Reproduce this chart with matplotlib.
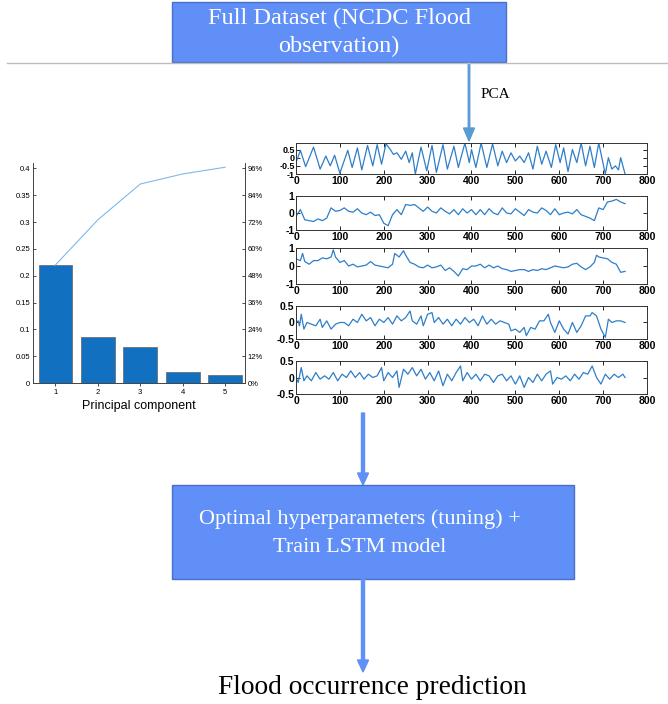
import matplotlib
matplotlib.use("Agg")
import matplotlib.pyplot as plt
from matplotlib.patches import Rectangle, FancyArrow

# PCA explained variance per component and cumulative share (%)
components = [1, 2, 3, 4, 5]
explained = [0.22, 0.085, 0.068, 0.021, 0.015]
cum_pct = [52.8, 73.0, 89.0, 93.5, 96.5]

# principal component score series (time index, value)
pc1_t = [0, 10, 22, 40, 55, 68, 78, 88, 100, 118, 128, 140, 150, 163, 175, 185, 195, 205,
         215, 222, 230, 240, 250, 258, 265, 272, 285, 298, 310, 320, 335, 345, 360, 370,
         385, 395, 400, 410, 422, 435, 448, 460, 470, 480, 490, 500, 510, 520, 530, 540,
         550, 560, 570, 582, 592, 602, 610, 620, 630, 640, 650, 660, 670, 680, 690, 705,
         712, 720, 728, 735, 740, 750]
pc1_v = [-0.3, 0.45, -0.55, 0.65, -0.7, 0.1, -0.5, 0.15, -0.95, 0.45, -0.6, 0.6, -0.75, 0.75,
         -0.5, 0.8, -0.4, 0.85, 0.5, 0.2, 0.3, -0.1, 0.4, -0.3, 0.3, -1.0, 0.65, -0.8, 0.75,
         -0.9, 0.8, -0.7, 0.7, -0.6, 0.9, -0.3, 0.5, -0.6, 0.9, -0.6, 0.85, -0.5, 0.4, -0.3,
         0.3, -0.2, 0.1, -0.3, 0.3, -0.7, 0.7, -0.4, 0.4, -0.6, 0.8, -0.3, 0.6, -0.85, 0.5,
         -0.3, 0.9, -0.5, 0.7, -0.6, 0.9, -1.0, 0.0, -0.7, -0.5, -0.75, 0.0, -1.0]

pc2_t = list(range(0, 751, 10))
pc2_v = [-0.2, 0.2, -0.4, -0.45, -0.5, -0.35, -0.45, -0.3, 0.3, 0.1, 0.15, 0.3, 0.1, 0.05,
         0.25, 0.0, -0.1, 0.05, -0.15, -0.1, -0.6, -0.75, -0.1, 0.2, -0.1, 0.5, 0.45, 0.5,
         0.3, 0.1, 0.35, 0.1, 0.0, 0.3, 0.1, -0.05, 0.2, -0.1, 0.25, 0.0, 0.2, -0.1, 0.2,
         -0.1, 0.25, 0.0, -0.1, 0.3, 0.0, -0.05, 0.25, 0.05, -0.15, 0.2, 0.05, 0.0, 0.3,
         0.15, -0.1, 0.25, -0.1, 0.0, 0.05, -0.05, 0.2, -0.1, -0.2, -0.3, -0.45, 0.3, 0.2,
         0.65, 0.7, 0.8, 0.65, 0.55]

pc3_t = [0, 10, 15, 20, 30, 40, 50, 60, 70, 80, 85, 90, 100, 110, 120, 130, 140, 150, 160,
         170, 180, 190, 200, 210, 220, 225, 235, 245, 250, 260, 270, 280, 290, 300, 310,
         320, 330, 340, 350, 360, 370, 380, 390, 400, 410, 420, 430, 440, 450, 460, 470,
         480, 490, 500, 510, 520, 530, 540, 550, 560, 570, 580, 590, 600, 610, 620, 630,
         640, 650, 660, 670, 680, 685, 690, 700, 710, 720, 730, 740, 750]
pc3_v = [0.4, 0.3, 0.7, 0.25, 0.1, 0.3, 0.3, 0.45, 0.4, 0.5, 0.9, 0.5, 0.2, 0.3, 0.0, 0.1,
         -0.05, 0.0, 0.05, 0.25, 0.05, 0.0, -0.05, -0.1, 0.1, 0.7, 0.5, 0.85, 0.6, 0.2, 0.1,
         -0.05, -0.1, 0.05, -0.1, -0.05, 0.05, -0.25, -0.1, -0.3, -0.55, -0.15, -0.2, 0.0,
         0.0, 0.1, -0.1, 0.05, -0.1, 0.0, -0.15, -0.2, -0.3, -0.25, -0.2, -0.2, -0.3, -0.2,
         -0.25, -0.15, -0.2, -0.1, 0.0, -0.05, -0.1, -0.05, 0.1, 0.15, -0.05, -0.2, -0.05,
         0.2, 0.6, 0.5, 0.45, 0.4, 0.2, 0.1, -0.35, -0.3]

pc4_t = [0, 5, 8, 12, 18, 25, 35, 45, 55, 60, 70, 80, 90, 100, 110, 120, 130, 140, 150, 160,
         170, 180, 190, 200, 210, 220, 230, 240, 250, 260, 265, 275, 285, 290, 300, 310,
         315, 325, 335, 345, 355, 365, 375, 385, 395, 405, 415, 425, 435, 445, 455, 465,
         475, 485, 490, 500, 510, 520, 525, 535, 545, 555, 565, 575, 580, 590, 600, 610,
         620, 630, 640, 650, 660, 670, 675, 685, 695, 705, 712, 720, 730, 740, 750]
pc4_v = [0.0, 0.05, -0.1, 0.25, -0.2, 0.0, -0.05, -0.1, 0.1, -0.15, 0.05, -0.2, -0.05, 0.0,
         0.0, -0.1, 0.1, 0.0, 0.25, 0.05, 0.15, -0.1, 0.1, 0.0, 0.15, -0.05, 0.2, 0.05,
         0.15, 0.35, 0.05, -0.05, 0.2, -0.1, 0.25, 0.3, 0.0, 0.15, -0.05, 0.1, -0.1, 0.1,
         -0.05, 0.15, 0.0, 0.1, -0.1, 0.2, -0.05, 0.1, -0.05, 0.05, 0.0, -0.05, -0.25, -0.2,
         -0.3, -0.15, -0.4, -0.15, -0.2, 0.05, 0.05, 0.25, 0.0, -0.3, 0.05, -0.2, -0.35,
         0.0, -0.3, -0.1, 0.2, 0.2, 0.3, 0.2, -0.2, -0.45, 0.1, 0.0, 0.05, 0.05, 0.0]

pc5_t = [0, 5, 12, 18, 25, 35, 45, 55, 65, 75, 85, 95, 105, 115, 125, 135, 145, 155, 165,
         175, 185, 195, 200, 210, 220, 230, 235, 245, 255, 265, 275, 285, 295, 305, 315,
         325, 335, 345, 355, 365, 375, 380, 390, 400, 410, 420, 430, 440, 450, 460, 470,
         480, 490, 500, 510, 520, 530, 540, 550, 560, 570, 580, 585, 595, 605, 615, 625,
         635, 645, 655, 665, 675, 685, 695, 705, 715, 725, 735, 745, 750]
pc5_v = [0.0, -0.15, 0.3, -0.1, 0.05, -0.1, 0.15, -0.05, 0.05, -0.05, 0.15, -0.1, 0.1, 0.0,
         0.2, 0.0, 0.15, -0.05, 0.1, 0.0, 0.05, 0.3, -0.1, 0.15, 0.0, 0.2, -0.3, 0.25, 0.1,
         0.3, 0.05, 0.25, -0.05, 0.15, -0.1, 0.2, -0.25, 0.1, -0.1, 0.15, 0.35, -0.1, 0.15,
         -0.05, 0.1, -0.1, 0.1, 0.05, -0.15, 0.05, 0.1, -0.1, 0.05, -0.2, 0.05, -0.3, 0.0,
         -0.15, 0.1, -0.1, 0.1, 0.2, -0.2, 0.0, -0.05, 0.05, -0.1, 0.1, -0.05, 0.15, 0.1,
         0.35, 0.0, -0.2, 0.1, -0.05, 0.1, 0.0, 0.1, 0.0]

W, H = 668, 704
box_blue = "#5F8FF7"
serif = "Liberation Serif"
sans = "Liberation Sans"

fig = plt.figure(figsize=(W / 100, H / 100), dpi=100)


def px_axes(x0, y0, x1, y1):
    # axes placed by pixel box (top-left origin)
    return fig.add_axes([x0 / W, 1 - y1 / H, (x1 - x0) / W, (y1 - y0) / H])


# flowchart layer
flow = fig.add_axes([0, 0, 1, 1])
flow.set_xlim(0, W)
flow.set_ylim(H, 0)
flow.axis("off")

flow.add_patch(Rectangle((172, 2), 334, 60, facecolor=box_blue, edgecolor="#4A6FC8", lw=1))
flow.text(339, 18, "Full Dataset (NCDC Flood", color="white", family=serif, fontsize=17.5,
          ha="center", va="center")
flow.text(339, 46, "observation)", color="white", family=serif, fontsize=17.5,
          ha="center", va="center")
flow.plot([7, 668], [63, 63], color="#BDBDBD", lw=1)

flow.add_patch(FancyArrow(469, 63, 0, 78, width=1.5, head_width=11, head_length=13,
                          length_includes_head=True, color="#5B9BD5"))
flow.text(481, 95, "PCA", family=serif, fontsize=11, ha="left", va="center")

flow.add_patch(FancyArrow(363, 413, 0, 72, width=3, head_width=11, head_length=12,
                          length_includes_head=True, color=box_blue))
flow.add_patch(Rectangle((172, 485), 402, 94, facecolor=box_blue, edgecolor="#4A6FC8", lw=1))
flow.text(360, 519, "Optimal hyperparameters (tuning) +", color="white", family=serif,
          fontsize=16, ha="center", va="center")
flow.text(360, 548, "Train LSTM model", color="white", family=serif, fontsize=16,
          ha="center", va="center")
flow.add_patch(FancyArrow(363, 579, 0, 93, width=3, head_width=11, head_length=12,
                          length_includes_head=True, color=box_blue))
flow.text(372, 688, "Flood occurrence prediction", family=serif, fontsize=19.7,
          ha="center", va="center")

# pareto chart of explained variance
ax = px_axes(33, 163, 245, 383)
ax.bar(components, explained, width=0.8, color="#1170C0", edgecolor="#707070", lw=0.6)
ax.set_xlim(0.47, 5.47)
ax.set_ylim(0, 0.41)
ax.set_yticks([0, 0.05, 0.1, 0.15, 0.2, 0.25, 0.3, 0.35, 0.4])
ax.set_yticklabels(["0", "0.05", "0.1", "0.15", "0.2", "0.25", "0.3", "0.35", "0.4"])
ax.set_xticks(components)
ax.tick_params(labelsize=5.5, length=2, width=0.5, direction="in", pad=2)
ax.tick_params(axis="x", direction="out")
ax.set_xlabel("Principal component", fontsize=9, family=sans, labelpad=3)
for s in ax.spines.values():
    s.set_linewidth(0.6)
    s.set_color("#444444")
ax.spines["top"].set_visible(False)
for lab in ax.get_xticklabels() + ax.get_yticklabels():
    lab.set_family(sans)

ax2 = ax.twinx()
ax2.plot(components, cum_pct, color="#80B8EA", lw=0.8)
ax2.set_ylim(0, 0.41 / 0.4 * 96)
ax2.set_yticks(range(0, 97, 12))
ax2.set_yticklabels([f"{p}%" for p in range(0, 97, 12)], family=sans)
ax2.tick_params(labelsize=5.5, length=2, width=0.5, direction="in", pad=2)
ax2.spines["top"].set_visible(False)
for s in ax2.spines.values():
    s.set_linewidth(0.6)
    s.set_color("#444444")

# component score time series
panels = [
    (pc1_t, pc1_v, 143, 174, (-1, 0.9), [-1, -0.5, 0, 0.5], ["-1", "-0.5", "0", "0.5"]),
    (pc2_t, pc2_v, 196, 230, (-1, 1), [-1, 0, 1], ["-1", "0", "1"]),
    (pc3_t, pc3_v, 248, 284, (-1, 1), [-1, 0, 1], ["-1", "0", "1"]),
    (pc4_t, pc4_v, 306, 339, (-0.5, 0.5), [-0.5, 0, 0.5], ["-0.5", "0", "0.5"]),
    (pc5_t, pc5_v, 361, 394, (-0.5, 0.5), [-0.5, 0, 0.5], ["-0.5", "0", "0.5"]),
]
for t, v, top, bottom, ylim, yt, ytl in panels:
    a = px_axes(296, top, 647, bottom)
    a.plot(t, v, color="#2E7EC9", lw=0.9)
    a.set_xlim(0, 800)
    a.set_ylim(*ylim)
    a.set_xticks(range(0, 801, 100))
    a.set_yticks(yt)
    a.set_yticklabels(ytl)
    a.tick_params(length=3, width=0.6, direction="in", pad=1.5, top=True, right=True)
    a.tick_params(axis="x", labelsize=7.5)
    a.tick_params(axis="y", labelsize=6.5 if len(yt) > 3 else 7.5, pad=1)
    for lab in a.get_xticklabels() + a.get_yticklabels():
        lab.set_family(sans)
        lab.set_fontweight("bold")
    for s in a.spines.values():
        s.set_linewidth(0.7)
        s.set_color("#333333")

fig.savefig("out.png", dpi=100)
